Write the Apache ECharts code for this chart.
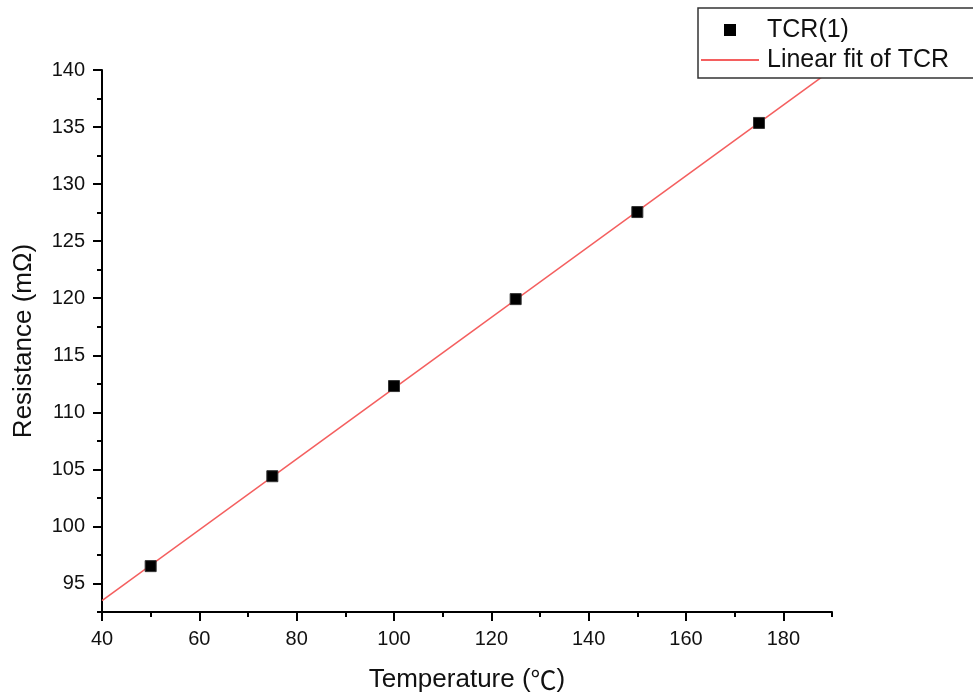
<!DOCTYPE html>
<html>
<head>
<meta charset="utf-8">
<title>TCR</title>
<script src="https://cdn.jsdelivr.net/npm/echarts@6/dist/echarts.min.js"></script>
<style>
  html, body { margin: 0; padding: 0; background: #fff; }
  #chart { width: 973px; height: 699px; }
</style>
</head>
<body>
<div id="chart"></div>
<script>
// measured points
const temperature = [50, 75, 100, 125, 150, 175]
const resistance = [96.52, 104.4, 112.3, 119.92, 127.55, 135.36]
// ends of the fitted line
const fitX = [40, 190]
const fitY = [93.5, 140.03]

const xMajor = [40, 60, 80, 100, 120, 140, 160, 180]
const xMinor = [50, 70, 90, 110, 130, 150, 170, 190]
const yMajor = [95, 100, 105, 110, 115, 120, 125, 130, 135, 140]
const yMinor = [92.5, 97.5, 102.5, 107.5, 112.5, 117.5, 122.5, 127.5, 132.5, 137.5]

const font = 'Liberation Sans, Arial, sans-serif'
const gridRect = { left: 102, top: 70, width: 730, height: 542 }

let chart = echarts.init(document.getElementById('chart'))
let option = {
  animation: false,
  backgroundColor: '#fff',
  grid: [
    Object.assign({}, gridRect),
    Object.assign({}, gridRect)
  ],
  legend: {
    orient: 'vertical',
    left: 698,
    top: 8,
    padding: [9, 60, 5, 2],
    itemWidth: 58,
    itemHeight: 12,
    itemGap: 4,
    backgroundColor: '#fff',
    borderColor: '#333',
    borderWidth: 1.5,
    borderRadius: 0,
    symbolKeepAspect: true,
    textStyle: { fontFamily: font, fontSize: 25, color: '#111', lineHeight: 26, padding: [0, 0, 0, 3] },
    data: [
      { name: 'TCR(1)', icon: 'path://M0,0H10V10H0Z', itemStyle: { color: '#000', borderWidth: 0 } },
      { name: 'Linear fit of TCR', itemStyle: { color: 'rgba(0,0,0,0)', borderColor: 'rgba(0,0,0,0)' } }
    ]
  },
  xAxis: [
    {
      gridIndex: 0,
      type: 'value',
      min: 40,
      max: 190,
      name: 'Temperature ({c|℃})',
      nameLocation: 'middle',
      nameGap: 55,
      nameTextStyle: {
        fontFamily: font, fontSize: 26, color: '#111',
        rich: { c: { fontFamily: 'Noto Sans CJK SC', fontSize: 26, color: '#111' } }
      },
      axisLine: { lineStyle: { color: '#000', width: 2 } },
      axisTick: { customValues: xMajor, length: 9, lineStyle: { color: '#000', width: 2 } },
      axisLabel: { customValues: xMajor, margin: 17, fontFamily: font, fontSize: 20, color: '#111' },
      splitLine: { show: false }
    },
    {
      gridIndex: 1,
      type: 'value',
      min: 40,
      max: 190,
      axisLine: { show: false },
      axisTick: { customValues: xMinor, length: 5, lineStyle: { color: '#000', width: 2 } },
      axisLabel: { show: false },
      splitLine: { show: false }
    }
  ],
  yAxis: [
    {
      gridIndex: 0,
      type: 'value',
      min: 92.5,
      max: 140,
      name: 'Resistance (mΩ)',
      nameLocation: 'middle',
      nameGap: 65,
      nameTextStyle: { fontFamily: font, fontSize: 26, color: '#111' },
      axisLine: { show: true, lineStyle: { color: '#000', width: 2 } },
      axisTick: { show: true, customValues: yMajor, length: 9, lineStyle: { color: '#000', width: 2 } },
      axisLabel: { customValues: yMajor, margin: 17, fontFamily: font, fontSize: 20, color: '#111' },
      splitLine: { show: false }
    },
    {
      gridIndex: 1,
      type: 'value',
      min: 92.5,
      max: 140,
      axisLine: { show: false },
      axisTick: { show: true, customValues: yMinor, length: 5, lineStyle: { color: '#000', width: 2 } },
      axisLabel: { show: false },
      splitLine: { show: false }
    }
  ],
  series: [
    {
      name: 'Linear fit of TCR',
      type: 'line',
      xAxisIndex: 0,
      yAxisIndex: 0,
      data: fitX.map((x, i) => [x, fitY[i]]),
      showSymbol: false,
      symbol: 'none',
      clip: true,
      lineStyle: { color: '#f45f5f', width: 1.5 },
      itemStyle: { color: '#f45f5f' },
      z: 2
    },
    {
      name: 'TCR(1)',
      type: 'scatter',
      xAxisIndex: 0,
      yAxisIndex: 0,
      data: temperature.map((x, i) => [x, resistance[i]]),
      symbol: 'rect',
      symbolSize: 11,
      itemStyle: { color: '#000', borderColor: '#333', borderWidth: 1, opacity: 1 },
      z: 3
    }
  ]
}
chart.setOption(option)
</script>
</body>
</html>
